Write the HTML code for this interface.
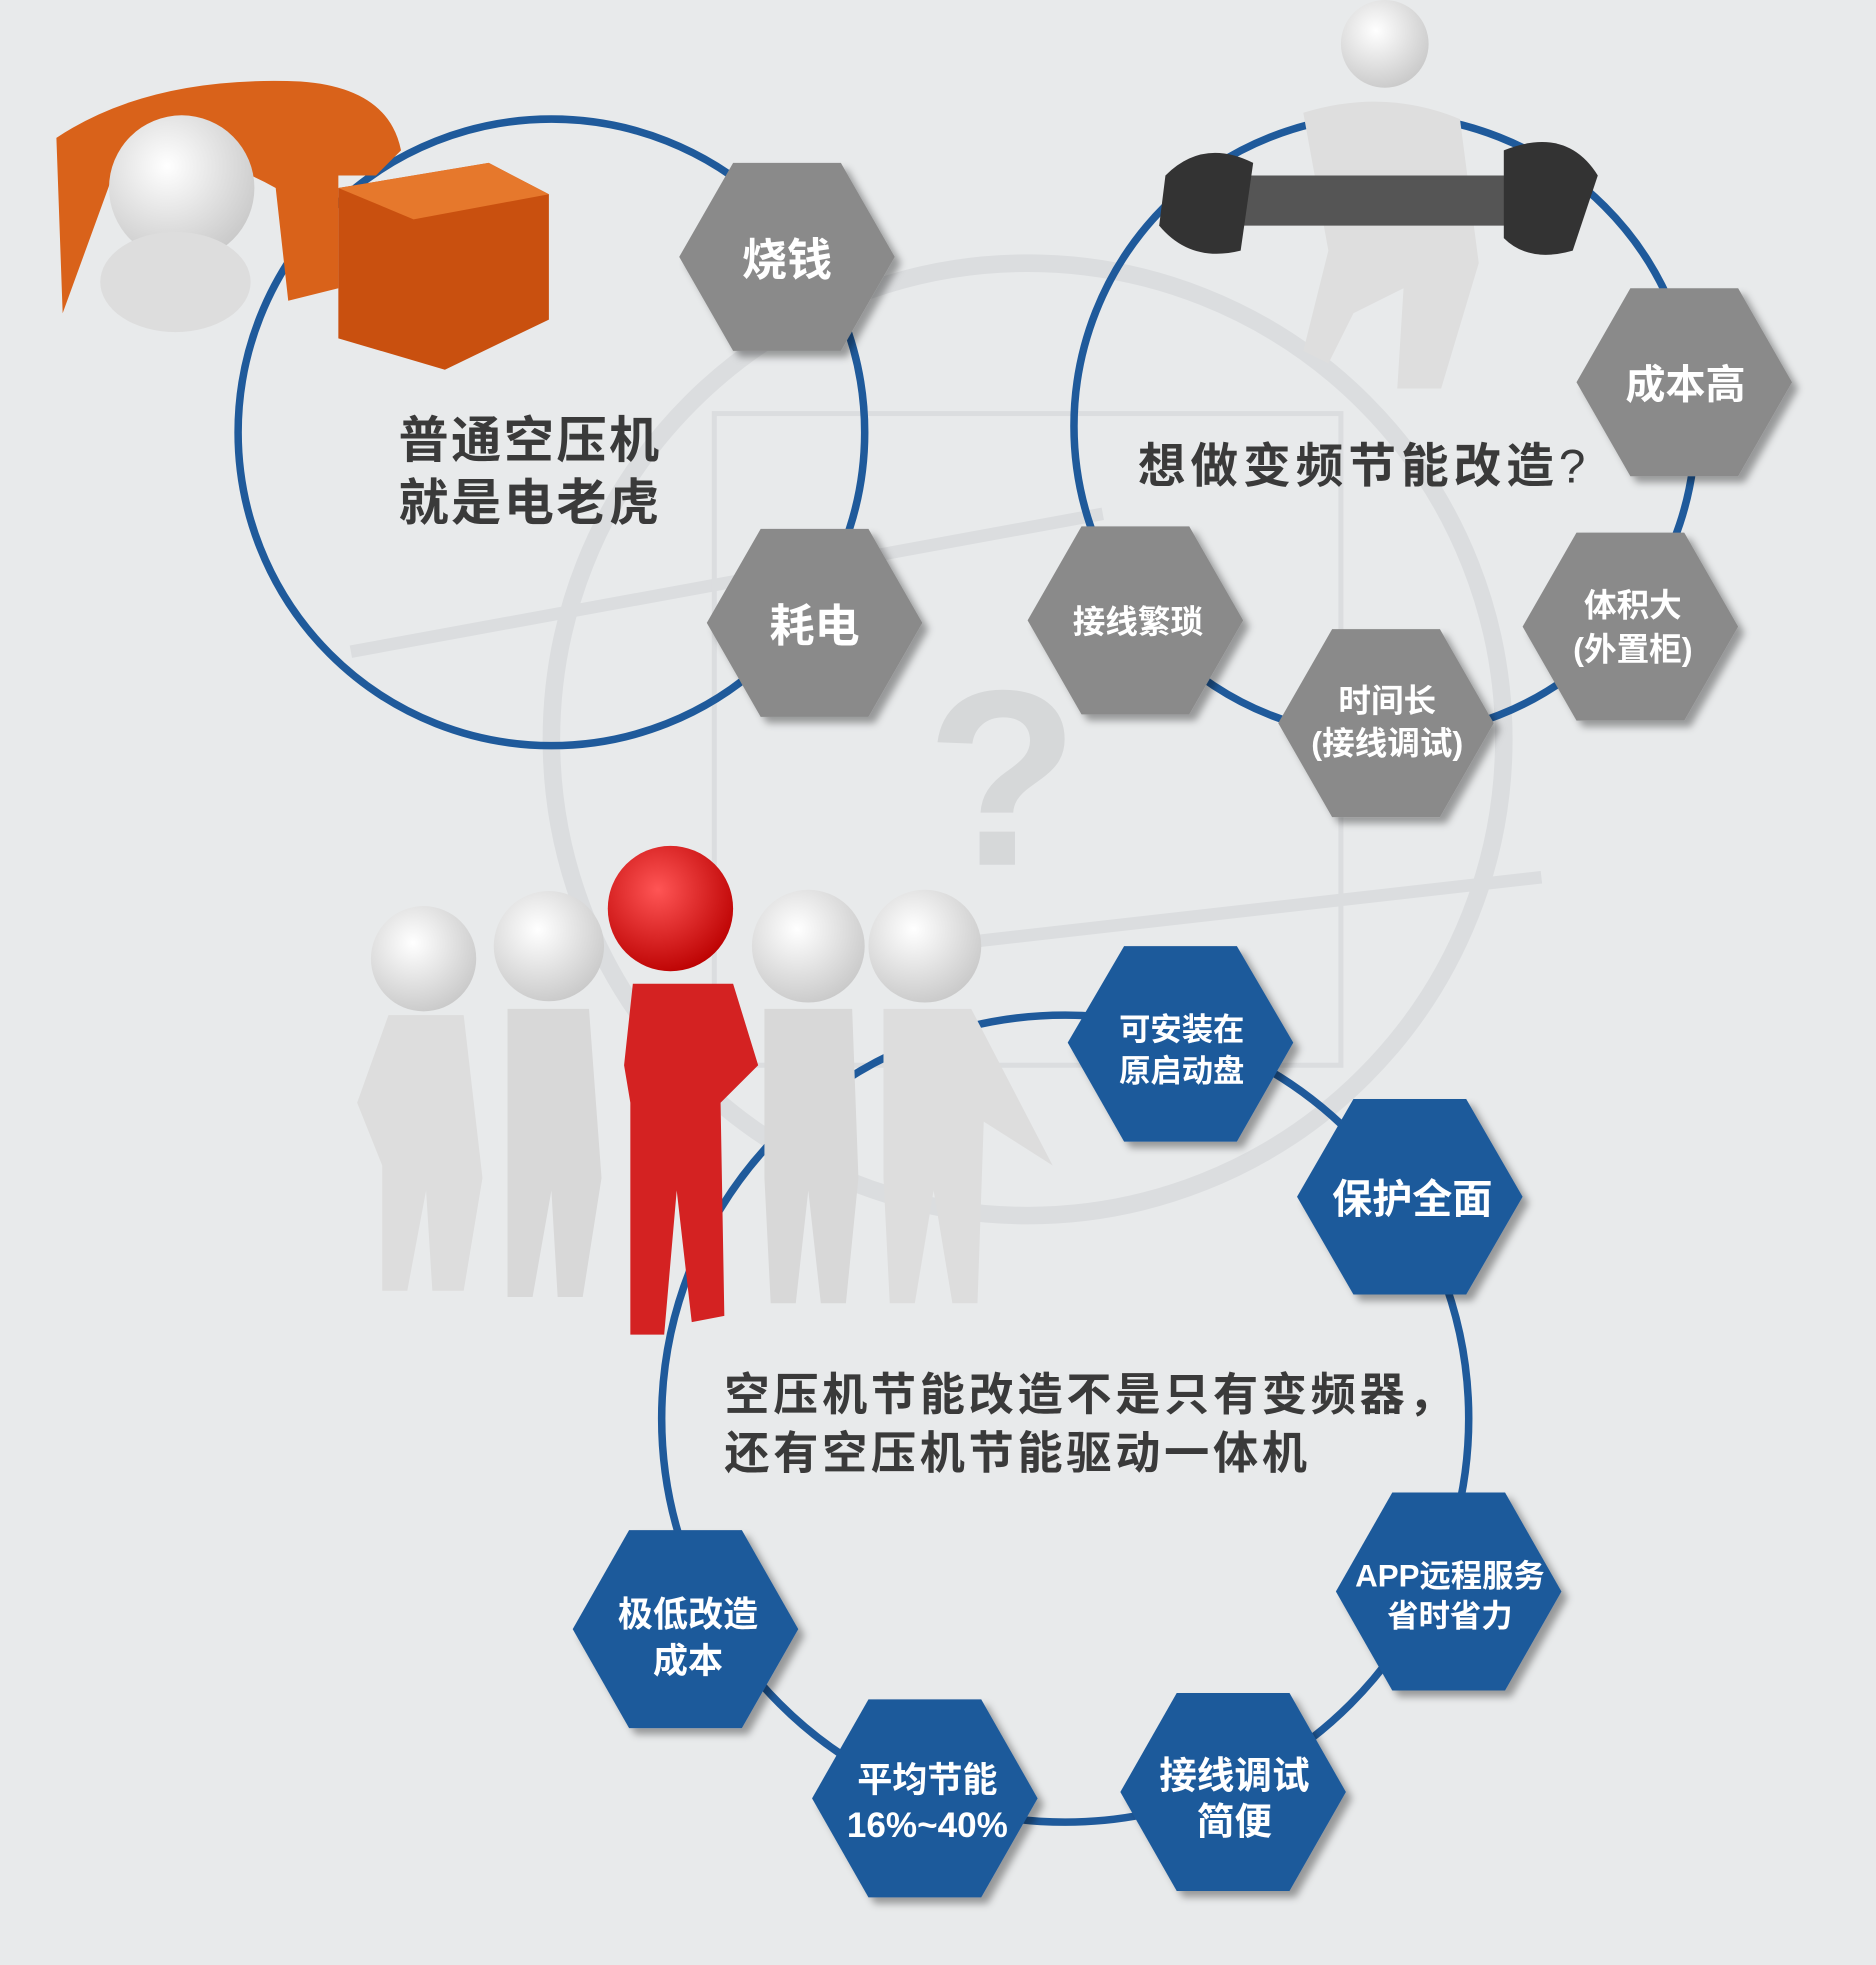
<!DOCTYPE html>
<html><head><meta charset="utf-8"><style>
html,body{margin:0;padding:0;background:#e8eaeb;}
svg{display:block}
text{font-family:"Liberation Sans","Noto Sans CJK SC","WenQuanYi Zen Hei",sans-serif;font-weight:bold}
</style></head><body>
<svg width="1876" height="1965" viewBox="0 0 1497 1568" xmlns="http://www.w3.org/2000/svg">
<defs>
<filter id="sh" x="-20%" y="-20%" width="150%" height="150%"><feDropShadow dx="5" dy="5" stdDeviation="3" flood-color="#000" flood-opacity="0.35"/></filter>
<radialGradient id="wg" cx="0.4" cy="0.35" r="0.7"><stop offset="0" stop-color="#fff"/><stop offset="1" stop-color="#c8c8c8"/></radialGradient>
<radialGradient id="rg" cx="0.4" cy="0.35" r="0.7"><stop offset="0" stop-color="#f55"/><stop offset="1" stop-color="#b00"/></radialGradient>
</defs>
<rect width="1497" height="1568" fill="#e8eaeb"/>
<g fill="none" stroke="#dbdddf" stroke-width="10">
<circle cx="820" cy="590" r="380" stroke-width="14"/>
<line x1="280" y1="520" x2="880" y2="410"/>
<line x1="700" y1="760" x2="1230" y2="700"/>
<rect x="570" y="330" width="500" height="520" stroke-width="4"/>
</g>
<text x="800" y="690" font-size="200" fill="#d6d8d9" text-anchor="middle" font-weight="normal">?</text>

<g fill="none" stroke="#1f5a9b" stroke-width="6">
<circle cx="440" cy="345" r="250"/>
<circle cx="1105" cy="340" r="248"/>
<circle cx="850" cy="1132" r="322"/>
</g>

<path d="M45 110 Q120 60 240 65 Q310 70 320 120 L300 140 L270 140 L270 230 L230 240 L220 150 Q150 110 90 140 L50 250 Z" fill="#d9621a"/>
<polygon points="270,150 390,130 438,155 438,255 355,295 270,270" fill="#c9500f"/>
<polygon points="270,150 390,130 438,155 330,175" fill="#e6782c"/>
<circle cx="145" cy="150" r="58" fill="url(#wg)"/>
<ellipse cx="140" cy="225" rx="60" ry="40" fill="#ddd"/>

<circle cx="1105" cy="35" r="35" fill="url(#wg)"/>
<path d="M1040 90 Q1105 70 1165 95 L1180 210 L1150 310 L1115 310 L1120 230 L1080 250 L1060 290 L1040 280 L1060 200 Z" fill="#dedede"/>
<rect x="960" y="140" width="280" height="40" rx="15" fill="#555"/>
<path d="M930 140 Q960 110 1000 130 L990 200 Q950 210 925 180 Z" fill="#333"/>
<path d="M1200 120 Q1250 100 1275 140 L1255 200 Q1220 210 1200 190 Z" fill="#333"/>

<g>
<circle cx="338" cy="765" r="42" fill="url(#wg)"/><path d="M310 810 L370 810 L385 940 L370 1030 L345 1030 L340 950 L325 1030 L305 1030 L305 930 L285 880 Z" fill="#ddd"/>
<circle cx="438" cy="755" r="44" fill="url(#wg)"/><path d="M405 805 L470 805 L480 940 L465 1035 L445 1035 L440 950 L425 1035 L405 1035 L405 930 Z" fill="#d8d8d8"/>
<circle cx="645" cy="755" r="45" fill="url(#wg)"/><path d="M610 805 L680 805 L685 940 L675 1040 L655 1040 L645 950 L635 1040 L615 1040 L610 940 Z" fill="#d8d8d8"/>
<circle cx="738" cy="755" r="45" fill="url(#wg)"/><path d="M705 805 L775 805 L840 930 L785 895 L780 1040 L760 1040 L745 950 L730 1040 L710 1040 L705 940 Z" fill="#ddd"/>
<circle cx="535" cy="725" r="50" fill="url(#rg)"/><path d="M505 785 L585 785 L605 850 L575 880 L578 1050 L552 1055 L540 950 L530 1065 L503 1065 L503 880 L498 850 Z" fill="#d42222"/>
</g>

<g filter="url(#sh)">
<g fill="#8a8a8a">
<polygon points="542,205 585,130 671,130 714,205 671,280 585,280"/>
<polygon points="564,497 607,422 693,422 736,497 693,572 607,572"/>
<polygon points="1258,305 1301,230 1387,230 1430,305 1387,380 1301,380"/>
<polygon points="820,495 863,420 949,420 992,495 949,570 863,570"/>
<polygon points="1215,500 1258,425 1344,425 1387,500 1344,575 1258,575"/>
<polygon points="1020,577 1063,502 1149,502 1192,577 1149,652 1063,652"/>
</g>
<g fill="#1f5a9b">
<polygon points="852,832 897,755 987,755 1032,832 987,911 897,911"/>
<polygon points="1035,955 1080,877 1170,877 1215,955 1170,1033 1080,1033"/>
<polygon points="1066,1270 1111,1191 1201,1191 1246,1270 1201,1349 1111,1349"/>
<polygon points="894,1430 939,1351 1029,1351 1074,1430 1029,1509 939,1509"/>
<polygon points="648,1435 693,1356 783,1356 828,1435 783,1514 693,1514"/>
<polygon points="457,1300 502,1221 592,1221 637,1300 592,1379 502,1379"/>
</g>
</g>

<g fill="#fff" text-anchor="middle">
<text x="628" y="220" font-size="36">烧钱</text>
<text x="650" y="512" font-size="36">耗电</text>
<text x="1345" y="318" font-size="32">成本高</text>
<text x="908" y="505" font-size="26">接线繁琐</text>
<text x="1303" y="492" font-size="26">体积大</text>
<text x="1303" y="527" font-size="26">(外置柜)</text>
<text x="1107" y="568" font-size="26">时间长</text>
<text x="1107" y="602" font-size="26">(接线调试)</text>
<text x="943" y="830" font-size="25">可安装在</text>
<text x="943" y="863" font-size="25">原启动盘</text>
<text x="1127" y="968" font-size="32">保护全面</text>
<text x="1157" y="1266" font-size="25">APP远程服务</text>
<text x="1157" y="1298" font-size="25">省时省力</text>
<text x="985" y="1427" font-size="30">接线调试</text>
<text x="985" y="1464" font-size="30">简便</text>
<text x="740" y="1430" font-size="28">平均节能</text>
<text x="740" y="1466" font-size="28">16%~40%</text>
<text x="549" y="1298" font-size="28">极低改造</text>
<text x="549" y="1335" font-size="28">成本</text>
</g>

<g fill="#3a3a3a">
<text x="318" y="365" font-size="40" letter-spacing="2">普通空压机</text>
<text x="318" y="415" font-size="40" letter-spacing="2">就是电老虎</text>
<text x="908" y="385" font-size="38" letter-spacing="4">想做变频节能改造<tspan font-weight="normal">?</tspan></text>
<text x="578" y="1125" font-size="36" letter-spacing="3">空压机节能改造不是只有变频器，</text>
<text x="578" y="1172" font-size="36" letter-spacing="3">还有空压机节能驱动一体机</text>
</g>
</svg>
</body></html>
